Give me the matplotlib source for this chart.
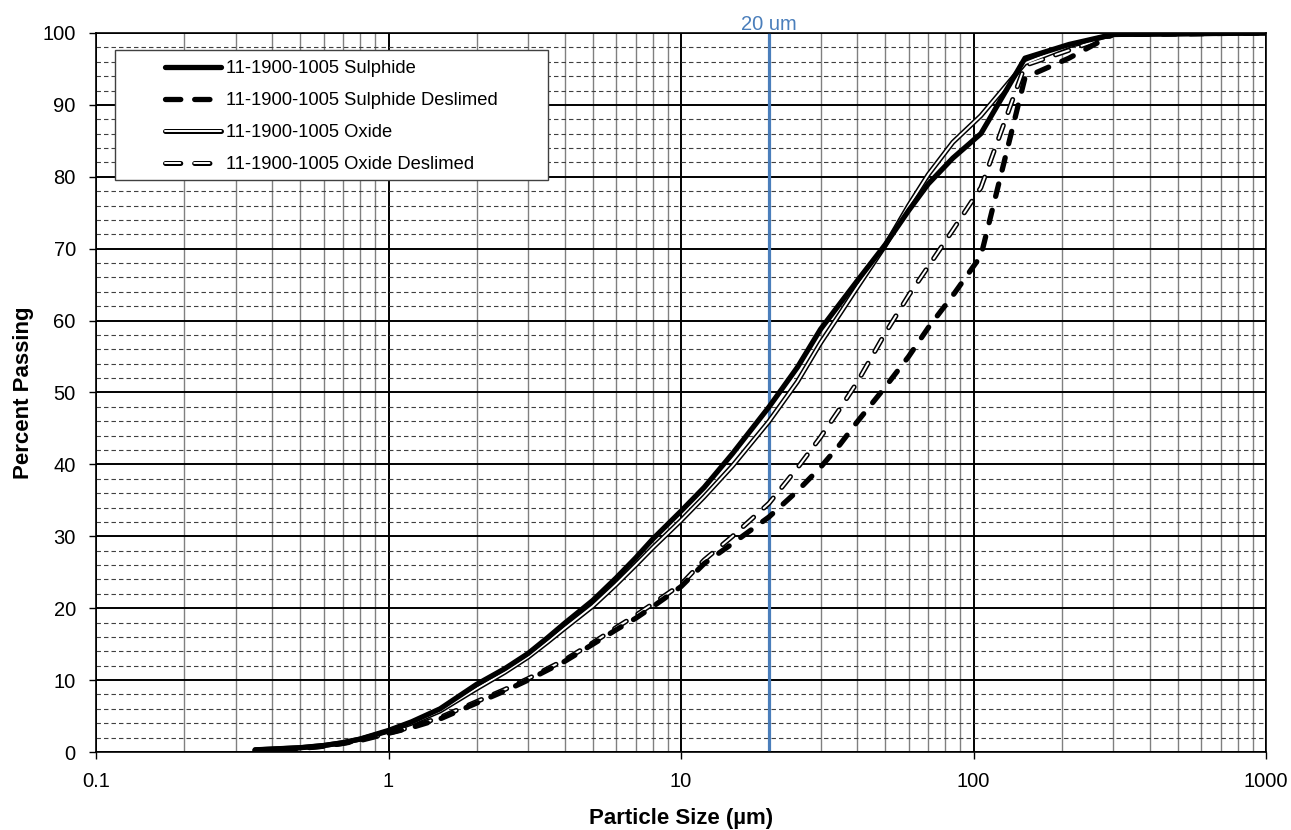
import matplotlib
matplotlib.use("Agg")
import matplotlib.pyplot as plt
from matplotlib.patches import Rectangle
from matplotlib.lines import Line2D
from matplotlib.legend_handler import HandlerTuple
from matplotlib.ticker import FixedLocator, NullFormatter

plt.rcParams['font.family'] = ['Liberation Sans', 'DejaVu Sans']
plt.rcParams['lines.scale_dashes'] = False

# ---- data ----
sizes = [0.35, 0.5, 0.6, 0.7, 0.8, 1, 1.2, 1.5, 2, 2.5, 3, 3.5, 4, 5, 6, 7, 8, 10, 12, 15,
         20, 25, 30, 35, 40, 50, 60, 70, 85, 106, 150, 212, 300, 1000]
sulphide = [0.3, 0.6, 0.9, 1.3, 1.8, 3.0, 4.2, 6.0, 9.4, 11.6, 13.7, 15.9, 17.9, 21.1, 24.2, 27.0, 29.6, 33.5, 36.8, 41.5,
            48.0, 53.5, 58.8, 62.4, 65.5, 70.6, 75.3, 79.0, 82.6, 86.0, 96.5, 98.4, 99.8, 100]
sulphide_deslimed = [0.2, 0.5, 0.8, 1.2, 1.6, 2.6, 3.4, 4.6, 6.8, 8.5, 10.0, 11.4, 12.6, 15.0, 17.0, 18.6, 20.2, 23.0, 26.2, 29.0,
                     32.7, 36.3, 39.6, 42.8, 45.9, 50.8, 55.0, 59.0, 63.5, 69.0, 93.8, 96.5, 99.8, 100]
oxide = [0.3, 0.6, 0.9, 1.3, 1.8, 2.9, 4.0, 5.7, 8.8, 11.1, 13.2, 15.3, 17.2, 20.3, 23.3, 26.0, 28.4, 32.2, 35.5, 39.8,
         46.0, 51.5, 56.9, 61.0, 64.6, 70.5, 76.0, 80.3, 84.8, 88.5, 95.8, 98.2, 99.8, 100]
oxide_deslimed = [0.2, 0.5, 0.8, 1.2, 1.7, 2.6, 3.5, 4.8, 7.0, 8.7, 10.2, 11.6, 12.8, 15.2, 17.3, 19.0, 20.6, 23.3, 26.7, 30.0,
                  34.6, 39.5, 43.8, 47.8, 51.4, 58.3, 63.5, 67.5, 72.6, 78.5, 95.5, 97.6, 99.8, 100]

labels = ["11-1900-1005 Sulphide", "11-1900-1005 Sulphide Deslimed",
          "11-1900-1005 Oxide", "11-1900-1005 Oxide Deslimed"]
marker_size = 20
marker_label = "20 um"
x_ticks = [0.1, 1, 10, 100, 1000]
x_ticklabels = ["0.1", "1", "10", "100", "1000"]
y_ticks = list(range(0, 101, 10))

# ---- figure ----
W, H = 1291, 830
fig = plt.figure(figsize=(W / 100, H / 100), dpi=100)
ax = fig.add_axes([96 / W, (H - 752) / H, (1266 - 96) / W, (752 - 33) / H])
ax.set_xscale('log')
ax.set_xlim(0.1, 1000)
ax.set_ylim(0, 100)

ax.xaxis.set_major_locator(FixedLocator(x_ticks))
ax.set_xticklabels(x_ticklabels)
minor_x = [m * 10.0 ** e for e in range(-1, 3) for m in range(2, 10)]
ax.xaxis.set_minor_locator(FixedLocator(minor_x))
ax.xaxis.set_minor_formatter(NullFormatter())
ax.set_yticks(y_ticks)
ax.yaxis.set_minor_locator(FixedLocator([v for v in range(0, 101, 2) if v % 10]))

ax.grid(which='major', color='black', lw=1.4, zorder=1)
ax.xaxis.grid(which='minor', color='#808080', lw=1.0)
ax.yaxis.grid(which='minor', color='#404040', lw=0.8, linestyle=(0, (3.2, 2.2)))
ax.set_axisbelow(True)
ax.tick_params(which='major', direction='out', length=5, width=1, labelsize=14.5, colors='black')
ax.tick_params(axis='x', which='major', pad=9.5)
ax.tick_params(axis='y', which='major', pad=9.5)
ax.tick_params(which='minor', length=0)
for s in ax.spines.values():
    s.set_color('black')
    s.set_linewidth(1.2)

# 20 um marker
ax.axvline(marker_size, color='#4A7EBB', lw=2.3, zorder=2.5)
ax.text(marker_size, 1.004, marker_label, transform=ax.get_xaxis_transform(),
        ha='center', va='baseline', color='#4A7EBB', fontsize=14.5)

LW = 3.8
OUT = 3.6
INN = 1.4
dash_s = (0, (9.2, 10.3))
dash_o = (0, (10.0, 9.8))
dash_leg = (0, (11.0, 10.0))

l1, = ax.plot(sizes, sulphide, color='black', lw=LW, solid_capstyle='round',
              solid_joinstyle='round', zorder=4)
ax.plot(sizes, sulphide_deslimed, color='black', lw=LW, linestyle=dash_s,
        dash_capstyle='round', dash_joinstyle='round', zorder=4)
l3a, = ax.plot(sizes, oxide, color='black', lw=OUT, solid_capstyle='round',
               solid_joinstyle='round', zorder=3)
l3b, = ax.plot(sizes, oxide, color='white', lw=INN, solid_capstyle='round',
               solid_joinstyle='round', zorder=3.1)
ax.plot(sizes, oxide_deslimed, color='black', lw=OUT, linestyle=dash_o,
        dash_capstyle='round', dash_joinstyle='round', zorder=3)
ax.plot(sizes, oxide_deslimed, color='white', lw=INN, linestyle=dash_o,
        dash_capstyle='round', dash_joinstyle='round', zorder=3.1)

# legend proxies for dashed entries (two dashes per handle)
p2 = Line2D([], [], color='black', lw=LW, linestyle=dash_leg, dash_capstyle='round')
p4a = Line2D([], [], color='black', lw=OUT, linestyle=dash_leg, dash_capstyle='round')
p4b = Line2D([], [], color='white', lw=INN, linestyle=dash_leg, dash_capstyle='round')

# legend box
ax.add_patch(Rectangle((0.0162, 0.7955), 0.3698, 0.1805, transform=ax.transAxes,
                       facecolor='white', edgecolor='#404040', lw=1.0, zorder=5))
leg = ax.legend([l1, p2, (l3a, l3b), (p4a, p4b)], labels,
                handler_map={tuple: HandlerTuple(ndivide=1)},
                loc='upper left', bbox_to_anchor=(0.059, 0.962), frameon=False,
                fontsize=13.2, handlelength=3.05, handletextpad=0.3, labelspacing=0.82,
                borderpad=0, borderaxespad=0)
leg.set_zorder(6)

ax.set_xlabel("Particle Size (µm)", fontsize=16, fontweight='bold', labelpad=12)
ax.set_ylabel("Percent Passing", fontsize=16, fontweight='bold', labelpad=6)

fig.savefig("out.png", dpi=100)
